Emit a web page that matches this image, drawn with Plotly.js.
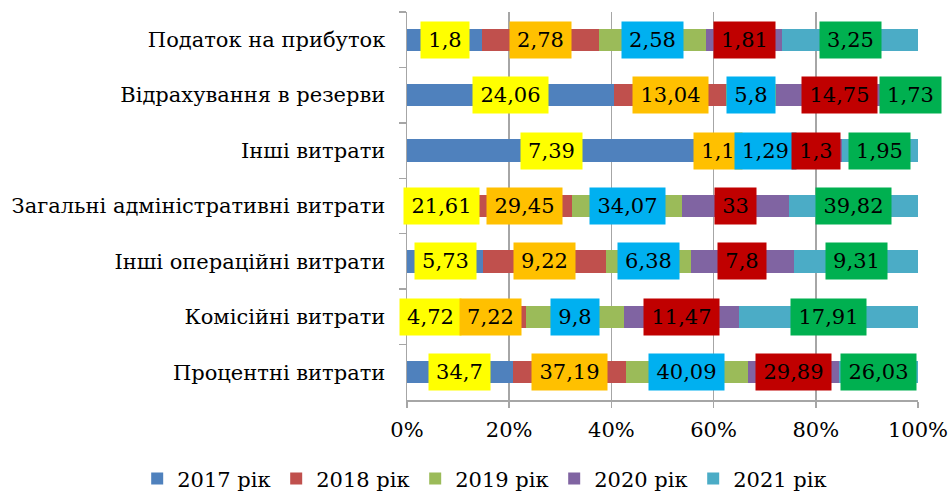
<!DOCTYPE html>
<html>
<head>
<meta charset="utf-8">
<script src="https://cdn.plot.ly/plotly-3.0.1.min.js"></script>
<style>html,body{margin:0;padding:0;background:#fff;}#chart{width:950px;height:491px;}</style>
</head>
<body>
<div id="chart"></div>
<script>
// Categories, top to bottom
const categories = [
  "Податок на прибуток",
  "Відрахування в резерви",
  "Інші витрати",
  "Загальні адміністративні витрати",
  "Інші операційні витрати",
  "Комісійні витрати",
  "Процентні витрати"
];
const seriesNames = ["2017 рік", "2018 рік", "2019 рік", "2020 рік", "2021 рік"];
const y2017 = [1.8, 24.06, 7.39, 21.61, 5.73, 4.72, 34.7];
const y2018 = [2.78, 13.04, 1.1, 29.45, 9.22, 7.22, 37.19];
const y2019 = [2.58, 5.8, 1.29, 34.07, 6.38, 9.8, 40.09];
const y2020 = [1.81, 14.75, 1.3, 33, 7.8, 11.47, 29.89];
const y2021 = [3.25, 1.73, 1.95, 39.82, 9.31, 17.91, 26.03];

const seriesValues = [y2017, y2018, y2019, y2020, y2021];
const barColors = ["#4F81BD", "#C0504D", "#9BBB59", "#8064A2", "#4BACC6"];
const labelColors = ["#FFFF00", "#FFC000", "#00B0F0", "#C00000", "#00B050"];

const FONT = "DejaVu Serif";
const FS = 21;

const traces = seriesValues.map((vals, i) => ({
  type: "bar",
  orientation: "h",
  name: seriesNames[i],
  y: categories,
  x: vals,
  marker: { color: barColors[i], line: { width: 0 } },
  hoverinfo: "none"
}));

const cv = document.createElement("canvas").getContext("2d");
cv.font = FS + "px 'DejaVu Serif'";

const annotations = [];
categories.forEach((cat, ci) => {
  const total = seriesValues.reduce((s, arr) => s + arr[ci], 0);
  let cum = 0;
  seriesValues.forEach((arr, si) => {
    const v = arr[ci];
    const pct = v / total * 100;
    const center = cum + pct / 2;
    cum += pct;
    const txt = String(v).replace(".", ",");
    const w = Math.ceil(cv.measureText(txt).width) + 8;
    annotations.push({
      x: center, y: cat, xref: "x", yref: "y",
      text: txt, showarrow: false,
      font: { family: FONT, size: FS, color: "#000" },
      bgcolor: labelColors[si],
      borderpad: 3,
      width: w, height: 30,
      align: "center", valign: "middle"
    });
  });
});

const layout = {
  width: 950, height: 491,
  margin: { l: 407, r: 32, t: 12, b: 91, autoexpand: false },
  paper_bgcolor: "#fff", plot_bgcolor: "#fff",
  barmode: "stack",
  barnorm: "percent",
  bargap: 0.6,
  font: { family: FONT, size: FS, color: "#000" },
  xaxis: {
    range: [0, 100], dtick: 20, ticksuffix: "%",
    showgrid: true, gridcolor: "#A6A6A6", gridwidth: 1.5,
    showline: true, linecolor: "#A6A6A6", linewidth: 1.5,
    ticks: "outside", ticklen: 6, tickcolor: "#A6A6A6", tickwidth: 1.5,
    zeroline: false, fixedrange: true, automargin: false,
    ticklabelstandoff: 4,
    tickfont: { family: FONT, size: FS, color: "#000" }
  },
  yaxis: {
    type: "category", autorange: "reversed",
    showline: true, linecolor: "#A6A6A6", linewidth: 1.5,
    ticks: "outside", ticklen: 7, tickcolor: "#A6A6A6", tickwidth: 1.5,
    tickson: "boundaries",
    showgrid: false, zeroline: false, fixedrange: true, automargin: false,
    ticklabelstandoff: 16,
    tickfont: { family: FONT, size: FS, color: "#000" }
  },
  showlegend: true,
  legend: {
    orientation: "h",
    x: -0.528, xanchor: "left",
    y: -0.203, yanchor: "middle",
    font: { family: FONT, size: FS, color: "#000" },
    traceorder: "normal",
    entrywidth: 94, entrywidthmode: "pixels",
    itemclick: false, itemdoubleclick: false
  },
  annotations: annotations
};

Plotly.newPlot("chart", traces, layout, { displayModeBar: false, staticPlot: true });
</script>
</body>
</html>
